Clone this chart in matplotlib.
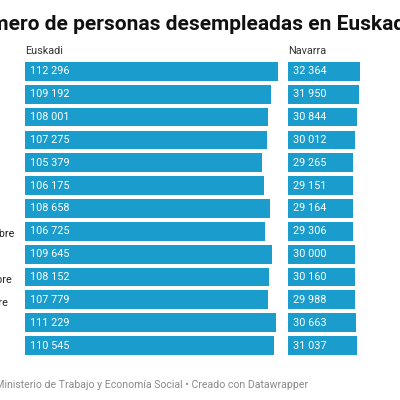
import matplotlib
matplotlib.use("Agg")
import matplotlib.pyplot as plt

plt.rcParams['font.family'] = ['Roboto', 'DejaVu Sans']

meses = ["Febrero", "Marzo", "Abril", "Mayo", "Junio", "Julio", "Agosto",
         "Septiembre", "Octubre", "Noviembre", "Diciembre", "Enero", "Febrero"]
euskadi = [112296, 109192, 108001, 107275, 105379, 106175, 108658,
           106725, 109645, 108152, 107779, 111229, 110545]
navarra = [32364, 31950, 30844, 30012, 29265, 29151, 29164,
           29306, 30000, 30160, 29988, 30663, 31037]

BAR = '#1a9ccc'
W, H = 400, 400

fig = plt.figure(figsize=(4, 4), dpi=100)
renderer = fig.canvas.get_renderer()

def px(x, y):
    # pixel coords (top-left origin) -> figure fraction
    return x / W, 1 - y / H

def width_px(s, **kw):
    t = fig.text(0, 0, s, **kw)
    w = t.get_window_extent(renderer).width
    t.remove()
    return w

def fmt(v):
    return f"{v:,}".replace(",", " ")

top, bottom = 62, 359
n = len(meses)
ax_b = 1 - bottom / H
ax_h = (bottom - top) / H

ax1 = fig.add_axes([25 / W, ax_b, 253 / W, ax_h])
ax2 = fig.add_axes([288 / W, ax_b, 72 / W, ax_h])

for ax, vals in [(ax1, euskadi), (ax2, navarra)]:
    ax.barh(range(n), vals, height=0.82, color=BAR)
    ax.set_xlim(0, max(vals))
    ax.set_ylim(n - 0.41, -0.41)
    ax.axis('off')
    for i, v in enumerate(vals):
        ax.text(max(vals) * 5 / ax.bbox.width, i, fmt(v),
                color='white', fontsize=7.8, va='center', ha='left')

# title, cut at the left edge like the reference ("m" half hidden)
title_kw = dict(fontsize=15.0, fontweight='bold', color='#111111')
shift = width_px("Nú", **title_kw) + 10
fig.text(*px(-shift, 30), "Número de personas desempleadas en Euskadi y Navarra",
         ha='left', va='baseline', **title_kw)

fig.text(*px(25, 54), "Euskadi", fontsize=7.8, color='#333333', va='baseline')
fig.text(*px(288, 54), "Navarra", fontsize=7.8, color='#333333', va='baseline')

# month labels, left aligned so that "Septiembre" ends at x=15
lab_kw = dict(fontsize=7.8, color='#222222')
x0 = 15 - width_px("Septiembre", **lab_kw)
for i, m in enumerate(meses):
    fig.text(*px(x0, top + 9.5 + i * 23.17), m, ha='left', va='center', **lab_kw)

fig.text(*px(308, 388), "Fuente: Ministerio de Trabajo y Economía Social • Creado con Datawrapper",
         fontsize=7.6, color='#8a8a8a', ha='right', va='baseline')

fig.savefig("out.png", dpi=100)
